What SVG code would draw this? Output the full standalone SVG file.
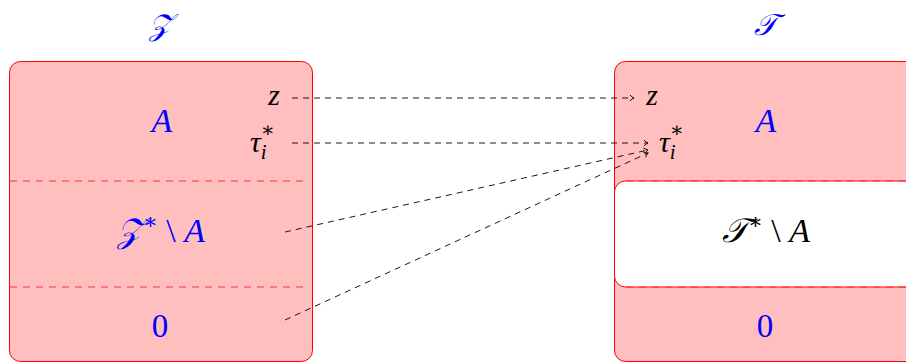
<svg xmlns="http://www.w3.org/2000/svg" width="906" height="362" viewBox="0 0 906 362">
<defs>
<marker id="arr" markerWidth="10" markerHeight="10" refX="6" refY="5" orient="auto" markerUnits="userSpaceOnUse">
<path d="M2,2 Q4,4.2 6,5 Q4,5.8 2,8" fill="none" stroke="#000" stroke-width="0.9"/>
</marker>
</defs>
<style>
.box{fill:#ffbfbf;stroke:#ff0000;stroke-width:1}
.div{stroke:#ff3333;stroke-width:1;stroke-dasharray:7 6;fill:none}
.con{stroke:#000;stroke-width:0.9;stroke-dasharray:6 5;fill:none}
.t{font-family:'Liberation Serif','DejaVu Serif',serif}
.i{font-style:italic}
</style>
<g id="Z-set">
<text x="160" y="35" fill="#0000ff" class="t i" font-size="30" text-anchor="middle">𝒵</text>
<rect class="box" x="9.5" y="61.5" width="303" height="300" rx="11"/>
<line class="div" x1="10" y1="181" x2="305" y2="181"/>
<line class="div" x1="10" y1="287" x2="305" y2="287"/>
<text x="162" y="132" fill="#0000ff" class="t i" font-size="34" text-anchor="middle">A</text>
<text x="161" y="242" fill="#0000ff" class="t i" font-size="34" text-anchor="middle">𝒵<tspan font-style="normal" font-size="22" dy="-13">∗</tspan><tspan font-style="normal" dy="13"> \ </tspan>A</text>
<text x="160" y="337" fill="#0000ff" class="t" font-size="33" text-anchor="middle">0</text>
<text x="274" y="105" fill="#000" class="t i" font-size="30" text-anchor="middle">z</text>
<text x="250" y="152" fill="#000" class="t i" font-size="30">τ<tspan font-size="21" dy="7">i</tspan><tspan font-style="normal" font-size="21" dx="-6" dy="-22">∗</tspan></text>
</g>
<g id="T-set">
<text x="765" y="35" fill="#0000ff" class="t i" font-size="30" text-anchor="middle">𝒯</text>
<rect class="box" x="614.5" y="61.5" width="320" height="300" rx="11"/>
<rect x="614.5" y="181" width="320" height="106" rx="11" fill="#ffffff" stroke="#ff0000" stroke-width="1"/>
<line class="div" x1="626" y1="181" x2="906" y2="181"/>
<line class="div" x1="626" y1="287" x2="906" y2="287"/>
<text x="766" y="132" fill="#0000ff" class="t i" font-size="34" text-anchor="middle">A</text>
<text x="766" y="242" fill="#000" class="t i" font-size="34" text-anchor="middle">𝒯<tspan font-style="normal" font-size="22" dy="-13">∗</tspan><tspan font-style="normal" dy="13"> \ </tspan>A</text>
<text x="765" y="337" fill="#0000ff" class="t" font-size="33" text-anchor="middle">0</text>
<text x="652" y="105" fill="#000" class="t i" font-size="30" text-anchor="middle">z</text>
<text x="659" y="152" fill="#000" class="t i" font-size="30">τ<tspan font-size="21" dy="7">i</tspan><tspan font-style="normal" font-size="21" dx="-6" dy="-22">∗</tspan></text>
</g>
<g id="connectors">
<line class="con" x1="292" y1="98" x2="634" y2="98" marker-end="url(#arr)"/>
<line class="con" x1="292" y1="143" x2="648" y2="143" marker-end="url(#arr)"/>
<line class="con" x1="285" y1="232" x2="648" y2="150" marker-end="url(#arr)"/>
<line class="con" x1="285" y1="320" x2="648" y2="153" marker-end="url(#arr)"/>
</g>
</svg>
